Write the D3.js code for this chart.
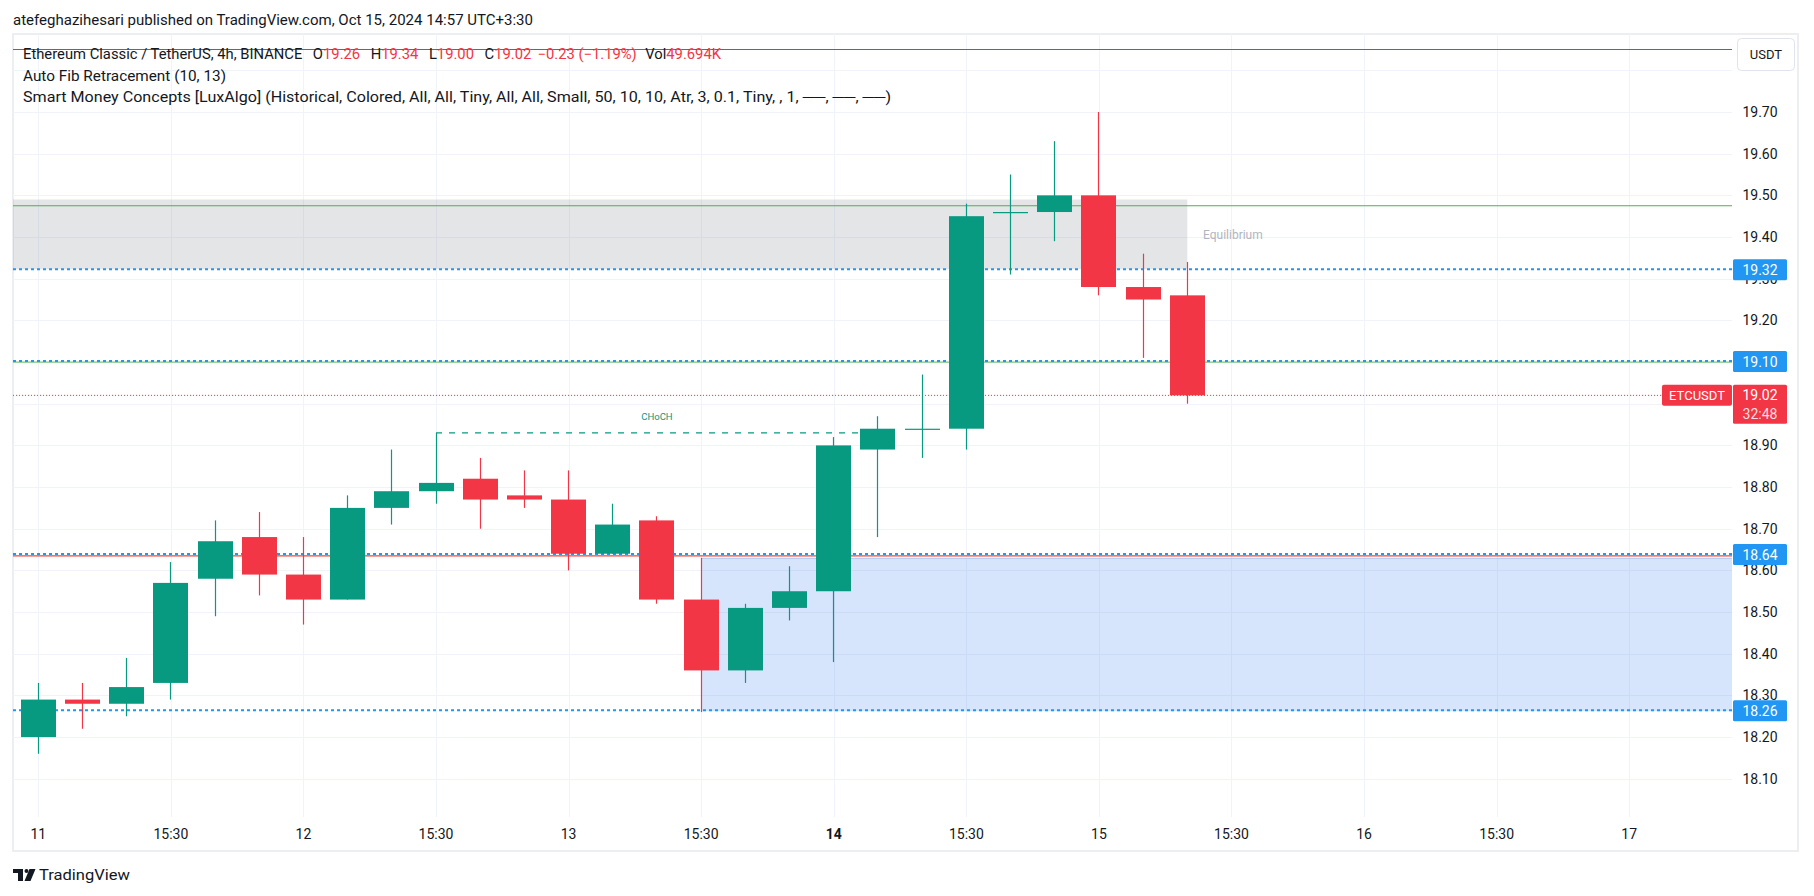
<!DOCTYPE html>
<html><head><meta charset="utf-8">
<script src="https://cdn.jsdelivr.net/npm/d3@7/dist/d3.min.js"></script>
<style>
html,body{margin:0;padding:0;background:#fff;}
svg{display:block;font-family:Roboto,"Liberation Sans",sans-serif;}
</style></head><body>
<svg id="c" width="1814" height="896"></svg>
<script>
// ---- data ----
const opens  = [18.20,18.29,18.28,18.33,18.58,18.68,18.59,18.53,18.75,18.79,18.82,18.78,18.77,18.64,18.72,18.53,18.36,18.51,18.55,18.89,18.94,18.94,19.46,19.46,19.50,19.28,19.26];
const highs  = [18.33,18.33,18.39,18.62,18.72,18.74,18.68,18.78,18.89,18.93,18.87,18.84,18.84,18.76,18.73,18.63,18.52,18.61,18.92,18.97,19.07,19.48,19.55,19.63,19.70,19.36,19.34];
const lows   = [18.16,18.22,18.25,18.29,18.49,18.54,18.47,18.53,18.71,18.76,18.70,18.75,18.60,18.64,18.52,18.26,18.33,18.48,18.38,18.68,18.87,18.89,19.31,19.39,19.26,19.11,19.00];
const closes = [18.29,18.28,18.32,18.57,18.67,18.59,18.53,18.75,18.79,18.81,18.77,18.77,18.64,18.71,18.53,18.36,18.51,18.55,18.90,18.94,18.94,19.45,19.46,19.50,19.28,19.25,19.02];

const timeTickIdx    = [0,3,6,9,12,15,18,21,24,27,30,33,36];
const timeTickLabels = ["11","15:30","12","15:30","13","15:30","14","15:30","15","15:30","16","15:30","17"];
// price labels not hidden behind the level badges
const priceTicks = ["18.10","18.20","18.30","18.40","18.50","18.60","18.70","18.80","18.90","19.20","19.30","19.40","19.50","19.60","19.70"];
const gridPrices = [18.1,18.2,18.3,18.4,18.5,18.6,18.7,18.8,18.9,19.0,19.1,19.2,19.3,19.4,19.5,19.6,19.7,19.8];

const fibLevels  = [19.85, 19.475, 19.10, 18.635];
const smcLevels  = [19.32, 19.10, 18.637, 18.262];
const smcLabels  = ["19.32","19.10","18.64","18.26"];
const lastPrice  = 19.02;
const lastLabel  = ["19.02","32:48"];
const eqZone     = {top:19.49, bottom:19.323, endIdx:26};
const demandZone = {top:18.630, bottom:18.262, startIdx:15};
const choch      = {level:18.93, fromIdx:9, toIdx:19};

// ---- styles / layout ----
const L=13, R=1732, T=34, B=817;
const GREEN="#089981", RED="#f23645", BLUE="#2196f3", TXT="#131722";
const fibColors=["#009688","#4caf50","#81c784","#f44336"];

const svg=d3.select("#c");
const x=d3.scaleLinear().domain([0,26]).range([38.3,1187.3]);
const y=d3.scaleLinear().domain([18.6,19.7]).range([570.4,112.0]);

svg.append("defs").append("clipPath").attr("id","plot")
  .append("rect").attr("x",L).attr("y",T).attr("width",R-L).attr("height",B-T);

// header
svg.append("text").attr("x",13).attr("y",25).attr("font-size",15).attr("fill",TXT)
  .attr("textLength",520).attr("lengthAdjust","spacingAndGlyphs")
  .text("atefeghazihesari published on TradingView.com, Oct 15, 2024 14:57 UTC+3:30");

// frame
svg.append("rect").attr("x",13).attr("y",34).attr("width",1785).attr("height",817)
  .attr("fill","none").attr("stroke","#eceef2").attr("stroke-width",2);

const grid=svg.append("g");
grid.selectAll(".vg").data(timeTickIdx).join("line")
  .attr("x1",d=>Math.round(x(d))+0.5).attr("x2",d=>Math.round(x(d))+0.5).attr("y1",T).attr("y2",B)
  .attr("stroke","#f0f3fa").attr("stroke-width",1);
const plot=svg.append("g").attr("clip-path","url(#plot)");

// grid
plot.selectAll(".hg").data(gridPrices).join("line")
  .attr("x1",L).attr("x2",R).attr("y1",d=>Math.round(y(d))+0.5).attr("y2",d=>Math.round(y(d))+0.5)
  .attr("stroke","#f0f3fa").attr("stroke-width",1);

// zones
plot.append("rect").attr("x",L).attr("y",y(eqZone.top)).attr("width",x(eqZone.endIdx)-L)
  .attr("height",y(eqZone.bottom)-y(eqZone.top)).attr("fill","rgba(120,123,134,0.2)");
plot.append("rect").attr("x",x(demandZone.startIdx)).attr("y",y(demandZone.top))
  .attr("width",R-x(demandZone.startIdx)).attr("height",y(demandZone.bottom)-y(demandZone.top))
  .attr("fill","rgba(33,110,240,0.18)");
plot.append("line").attr("x1",x(demandZone.startIdx)).attr("x2",R)
  .attr("y1",y(demandZone.top)+0.5).attr("y2",y(demandZone.top)+0.5)
  .attr("stroke","#b3c9f7").attr("stroke-width",1);
svg.append("text").attr("x",1203).attr("y",239).attr("font-size",12).attr("fill","#b2b5be")
  .text("Equilibrium");

// fib lines
plot.selectAll(".fib").data(fibLevels).join("line")
  .attr("x1",L).attr("x2",R).attr("y1",d=>y(d)).attr("y2",d=>y(d))
  .attr("stroke",(d,i)=>fibColors[i]).attr("stroke-width",1.2);

// smc dotted levels
plot.selectAll(".smc").data(smcLevels).join("line")
  .attr("x1",L).attr("x2",R).attr("y1",d=>y(d)-1).attr("y2",d=>y(d)-1)
  .attr("stroke",BLUE).attr("stroke-width",2).attr("stroke-dasharray","3,3");

// last price dotted
plot.append("line").attr("x1",L).attr("x2",1662).attr("y1",y(lastPrice)).attr("y2",y(lastPrice))
  .attr("stroke",RED).attr("stroke-width",1).attr("stroke-dasharray","1,2");

// CHoCH
plot.append("line").attr("x1",x(choch.fromIdx)).attr("x2",x(choch.toIdx))
  .attr("y1",y(choch.level)).attr("y2",y(choch.level))
  .attr("stroke",GREEN).attr("stroke-width",1.2).attr("stroke-dasharray","6,7");
svg.append("text").attr("x",(x(choch.fromIdx)+x(choch.toIdx))/2).attr("y",y(choch.level)-13)
  .attr("text-anchor","middle").attr("font-size",9.5).attr("fill",GREEN).text("CHoCH");

// candles
const idx=d3.range(opens.length);
const col=i=>closes[i]>=opens[i]?GREEN:RED;
plot.selectAll(".wick").data(idx).join("line")
  .attr("x1",i=>Math.round(x(i)-17.5)+17.5).attr("x2",i=>Math.round(x(i)-17.5)+17.5)
  .attr("y1",i=>y(highs[i])).attr("y2",i=>y(lows[i]))
  .attr("stroke",col).attr("stroke-width",1.2);
plot.selectAll(".body").data(idx).join("rect")
  .attr("x",i=>Math.round(x(i)-17.5)).attr("width",35)
  .attr("y",i=>y(Math.max(opens[i],closes[i])))
  .attr("height",i=>Math.max(1.2,Math.abs(y(opens[i])-y(closes[i]))))
  .attr("fill",col);

// price axis labels
svg.selectAll(".pl").data(priceTicks).join("text")
  .attr("x",1760).attr("y",d=>y(+d)+5).attr("text-anchor","middle")
  .attr("font-size",14).attr("fill",TXT).text(d=>d);

// time axis labels
svg.selectAll(".tl").data(timeTickIdx).join("text")
  .attr("x",d=>x(d)).attr("y",839).attr("text-anchor","middle").attr("font-size",14)
  .attr("font-weight",(d,i)=>timeTickLabels[i]==="14"?"bold":"normal")
  .attr("fill",TXT).text((d,i)=>timeTickLabels[i]);

// smc blue labels
const sl=svg.selectAll(".sl").data(smcLevels).join("g");
sl.append("rect").attr("x",1733).attr("y",d=>y(d)-11).attr("width",54).attr("height",21)
  .attr("rx",1.5).attr("fill",BLUE);
sl.append("text").attr("x",1760).attr("y",d=>y(d)+5).attr("text-anchor","middle")
  .attr("font-size",14).attr("fill","#fff").text((d,i)=>smcLabels[i]);

// last price labels
const ly=y(lastPrice);
svg.append("rect").attr("x",1662).attr("y",ly-10.5).attr("width",70).attr("height",21)
  .attr("rx",2).attr("fill",RED);
svg.append("text").attr("x",1697).attr("y",ly+5).attr("text-anchor","middle")
  .attr("font-size",13).attr("fill","#fff").text("ETCUSDT");
svg.append("rect").attr("x",1733).attr("y",ly-10.5).attr("width",54).attr("height",39)
  .attr("rx",1.5).attr("fill",RED);
svg.append("text").attr("x",1760).attr("y",ly+5).attr("text-anchor","middle")
  .attr("font-size",14).attr("fill","#fff").text(lastLabel[0]);
svg.append("text").attr("x",1760).attr("y",ly+23.5).attr("text-anchor","middle")
  .attr("font-size",14).attr("fill","rgba(255,255,255,0.85)").text(lastLabel[1]);

// USDT box
svg.append("rect").attr("x",1737.5).attr("y",38.5).attr("width",57).attr("height",32)
  .attr("rx",4).attr("fill","#fff").attr("stroke","#e0e3eb");
svg.append("text").attr("x",1766).attr("y",59).attr("text-anchor","middle")
  .attr("font-size",13).attr("fill",TXT).text("USDT");

// legend
const lg1=svg.append("text").attr("x",23).attr("y",58.5).attr("font-size",14).attr("fill",TXT)
  .attr("textLength",698).attr("lengthAdjust","spacingAndGlyphs");
const parts=[["Ethereum Classic / TetherUS, 4h, BINANCE",TXT,0],["O",TXT,10],["19.26",RED,0],
 ["H",TXT,10],["19.34",RED,0],["L",TXT,10],["19.00",RED,0],["C",TXT,10],["19.02",RED,0],
 ["\u22120.23 (\u22121.19%)",RED,6],["Vol",TXT,8],["49.694K",RED,0]];
parts.forEach(p=>lg1.append("tspan").attr("fill",p[1]).attr("dx",p[2]).text(p[0]));
svg.append("text").attr("x",23).attr("y",80.5).attr("font-size",14).attr("fill",TXT)
  .attr("textLength",203).attr("lengthAdjust","spacingAndGlyphs").text("Auto Fib Retracement (10, 13)");
svg.append("text").attr("x",23).attr("y",101.5).attr("font-size",14).attr("fill",TXT)
  .attr("textLength",868).attr("lengthAdjust","spacingAndGlyphs")
  .text("Smart Money Concepts [LuxAlgo] (Historical, Colored, All, All, Tiny, All, All, Small, 50, 10, 10, Atr, 3, 0.1, Tiny, , 1, \u2500\u2500, \u2500\u2500, \u2500\u2500)");

// TradingView logo
const lgG=svg.append("g").attr("fill",TXT);
lgG.append("rect").attr("x",13).attr("y",869).attr("width",10).attr("height",4);
lgG.append("rect").attr("x",18).attr("y",869).attr("width",5).attr("height",12);
lgG.append("circle").attr("cx",26.5).attr("cy",871).attr("r",2);
lgG.append("path").attr("d","M29.5,869 L35.5,869 L30.5,881 L24.5,881 Z");
svg.append("text").attr("x",39).attr("y",880).attr("font-size",15).attr("fill",TXT)
  .attr("textLength",91).attr("lengthAdjust","spacingAndGlyphs").text("TradingView");
</script>
</body></html>
